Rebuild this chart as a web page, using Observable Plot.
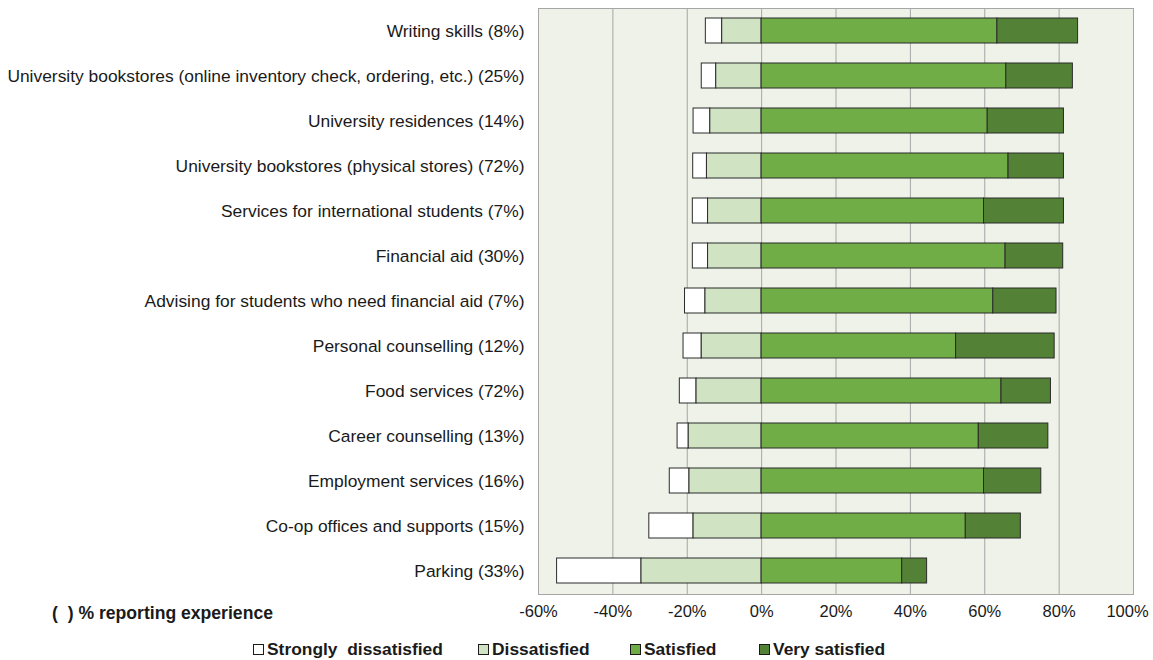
<!DOCTYPE html>
<html>
<head>
<meta charset="utf-8">
<script src="https://cdn.jsdelivr.net/npm/d3@7"></script>
<script src="https://cdn.jsdelivr.net/npm/@observablehq/plot@0.6"></script>
<style>
  html, body { margin: 0; padding: 0; background: #ffffff; }
  #wrap { position: relative; width: 1153px; height: 660px; font-family: "Liberation Sans", Arial, sans-serif; color: #1a1a1a; }
  #chart svg { display: block; }
  .note { position: absolute; left: 52px; top: 603px; font-weight: bold; font-size: 17.6px; line-height: 20px; white-space: pre; }
  .key { position: absolute; top: 639px; font-weight: bold; font-size: 17.4px; line-height: 20px; white-space: pre; }
  .key .sw { position: absolute; left: 0; top: 5px; width: 9px; height: 9px; border: 1px solid #1a1a1a; }
  .key .lb { position: absolute; top: 0; }
</style>
</head>
<body>
<div id="wrap">
  <div id="chart"></div>
  <div class="note">(  ) % reporting experience</div>
  <div id="legend"></div>
</div>
<script>
// Services, top to bottom, with the share of students reporting experience
const items = [
  "Writing skills (8%)",
  "University bookstores (online inventory check, ordering, etc.) (25%)",
  "University residences (14%)",
  "University bookstores (physical stores) (72%)",
  "Services for international students (7%)",
  "Financial aid (30%)",
  "Advising for students who need financial aid (7%)",
  "Personal counselling (12%)",
  "Food services (72%)",
  "Career counselling (13%)",
  "Employment services (16%)",
  "Co-op offices and supports (15%)",
  "Parking (33%)"
];

// Percent of respondents in each satisfaction category
const stronglyDissatisfied = [4.4, 3.9, 4.5, 3.7, 4.1, 4.1, 5.5, 4.9, 4.5, 3.0, 5.3, 11.9, 22.7];
const dissatisfied         = [10.6, 12.2, 13.8, 14.7, 14.4, 14.4, 15.1, 16.1, 17.5, 19.6, 19.4, 18.3, 32.3];
const satisfied            = [63.4, 65.8, 60.8, 66.4, 59.8, 65.6, 62.3, 52.3, 64.5, 58.4, 59.8, 54.9, 37.8];
const verySatisfied        = [21.7, 17.9, 20.5, 14.9, 21.5, 15.5, 17.0, 26.5, 13.3, 18.7, 15.4, 14.8, 6.7];

const responses = ["Strongly dissatisfied", "Dissatisfied", "Satisfied", "Very satisfied"];
const responseColors = ["#ffffff", "#d0e4c4", "#70ad47", "#538135"];
const xTicks = [-60, -40, -20, 0, 20, 40, 60, 80, 100];

// Long-form rows; dissatisfaction is drawn to the left of zero
const rows = [];
items.forEach((item, i) => {
  rows.push({item, response: "Strongly dissatisfied", value: -stronglyDissatisfied[i]});
  rows.push({item, response: "Dissatisfied", value: -dissatisfied[i]});
  rows.push({item, response: "Satisfied", value: satisfied[i]});
  rows.push({item, response: "Very satisfied", value: verySatisfied[i]});
});

// Stack nearest-to-zero first on each side
const stackOrder = ["Dissatisfied", "Strongly dissatisfied", "Satisfied", "Very satisfied"];

const pct = d => d + "%";
const lastTick = xTicks[xTicks.length - 1];

const chart = Plot.plot({
  width: 1153,
  height: 630,
  marginTop: 8,
  marginBottom: 36,
  marginLeft: 538,
  marginRight: 20,
  style: {fontFamily: "'Liberation Sans', Arial, sans-serif", fontSize: "17.4px", color: "#1a1a1a", background: "#ffffff"},
  x: {domain: [-60, 100], label: null},
  y: {domain: items, paddingInner: 0.44, paddingOuter: 0.22, label: null},
  color: {domain: responses, range: responseColors},
  marks: [
    Plot.frame({fill: "#eff2e9", stroke: null}),
    Plot.gridX(xTicks, {stroke: "#a6a6a6", strokeOpacity: 1, strokeWidth: 1}),
    Plot.barX(rows, {
      x: "value", y: "item", z: "response", fill: "response",
      order: stackOrder, stroke: "#2b2b2b", strokeWidth: 1, insetLeft: 0, insetRight: 0
    }),
    Plot.frame({stroke: "#a6a6a6", fill: null}),
    // the right-most label is nudged inward so it stays on the page
    Plot.axisX(xTicks.slice(0, -1), {tickSize: 0, tickPadding: 11, fontSize: 16.5, tickFormat: pct, label: null}),
    Plot.axisX([lastTick], {tickSize: 0, tickPadding: 11, fontSize: 16.5, dx: -6, tickFormat: pct, label: null}),
    Plot.axisY({tickSize: 0, tickPadding: 14, label: null})
  ]
});
document.getElementById("chart").appendChild(chart);

// Legend below the plot
const legendLeft = [253, 478, 630, 759];
const legend = document.getElementById("legend");
responses.forEach((r, i) => {
  const k = document.createElement("div");
  k.className = "key";
  k.style.left = legendLeft[i] + "px";
  const sw = document.createElement("div");
  sw.className = "sw";
  sw.style.background = responseColors[i];
  const lb = document.createElement("div");
  lb.className = "lb";
  lb.style.left = "14px";
  lb.textContent = r === "Strongly dissatisfied" ? "Strongly  dissatisfied" : r;
  k.appendChild(sw);
  k.appendChild(lb);
  legend.appendChild(k);
});
</script>
</body>
</html>
